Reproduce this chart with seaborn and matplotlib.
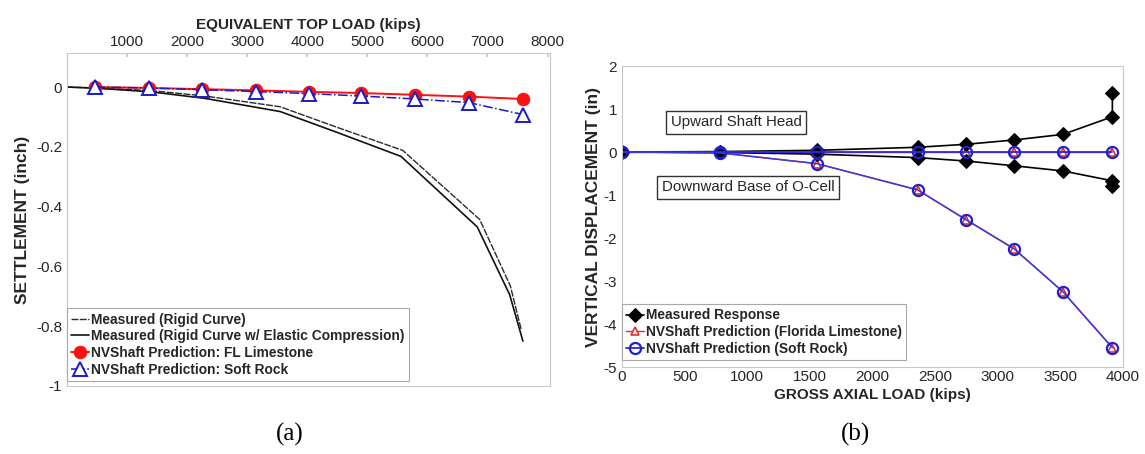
import numpy as np
import pandas as pd
import matplotlib
matplotlib.use("Agg")
import matplotlib.pyplot as plt
import seaborn as sns

# ---------------- (a) settlement vs. equivalent top load ----------------
top_load_ticks = [1000, 2000, 3000, 4000, 5000, 6000, 7000, 8000]
settle_ticks = [0, -0.2, -0.4, -0.6, -0.8, -1]

rigid_load = [0, 500, 1400, 2300, 3550, 4500, 5590, 6870, 7380, 7560]
rigid_settle = [0, -0.003, -0.012, -0.030, -0.066, -0.135, -0.212, -0.443, -0.665, -0.810]
elastic_load = [0, 500, 1400, 2300, 3550, 4500, 5560, 6830, 7370, 7590]
elastic_settle = [0, -0.004, -0.016, -0.038, -0.082, -0.152, -0.232, -0.468, -0.695, -0.850]

pred_load = [470, 1360, 2240, 3140, 4030, 4900, 5800, 6690, 7590]
fl_limestone = [0.0, -0.003, -0.007, -0.011, -0.016, -0.020, -0.026, -0.032, -0.040]
soft_rock = [0.0, -0.003, -0.009, -0.015, -0.022, -0.030, -0.040, -0.052, -0.092]

# ---------------- (b) O-cell displacement vs. gross axial load ----------------
gross_ticks = [0, 500, 1000, 1500, 2000, 2500, 3000, 3500, 4000]
disp_ticks = [2, 1, 0, -1, -2, -3, -4, -5]

up_load = [0, 780, 1555, 2360, 2750, 3130, 3520, 3915, 3915]
up_measured = [0, 0.01, 0.04, 0.11, 0.18, 0.28, 0.41, 0.82, 1.38]
down_load = [0, 780, 1555, 2360, 2750, 3130, 3520, 3915, 3915]
down_measured = [0, -0.01, -0.05, -0.13, -0.21, -0.32, -0.44, -0.67, -0.80]

pred_gross = [0, 780, 1555, 2360, 2750, 3130, 3520, 3915]
fl_up = [0, 0, 0, 0, 0, 0, 0, 0]
fl_down = [0, -0.02, -0.27, -0.88, -1.58, -2.25, -3.25, -4.55]
sr_up = [0, 0, 0, 0, 0, 0, 0, 0]
sr_down = [0, -0.02, -0.27, -0.88, -1.58, -2.25, -3.25, -4.55]

sns.set_theme(style="white")
plt.rcParams["font.family"] = ["Liberation Sans", "DejaVu Sans"]
plt.rcParams["axes.unicode_minus"] = False

fig = plt.figure(figsize=(11.45, 4.54), dpi=100)
ax1 = fig.add_axes([0.0585, 0.150, 0.4218, 0.7333])
ax2 = fig.add_axes([0.5432, 0.1916, 0.4376, 0.6630])

spine_col = "#c8c8c8"
text_col = "#262626"


def style_axes(ax):
    for s in ax.spines.values():
        s.set_color(spine_col)
        s.set_linewidth(0.8)
    ax.tick_params(direction="in", length=3, color=spine_col, labelsize=11,
                   labelcolor=text_col)


legend_kw = dict(loc="lower left", borderaxespad=0, fancybox=False, framealpha=1,
                 edgecolor="#a8a8a8", prop={"weight": "bold", "size": 9.9},
                 handlelength=1.3, handletextpad=0.15, labelspacing=0.2,
                 borderpad=0.3)

# --- panel (a)
sns.lineplot(x=rigid_load, y=rigid_settle, ax=ax1, sort=False, estimator=None,
             color="#2a2a2a", lw=1.0, linestyle=(0, (5, 1)),
             label="Measured (Rigid Curve)")
sns.lineplot(x=elastic_load, y=elastic_settle, ax=ax1, sort=False, estimator=None,
             color="#111111", lw=1.2, label="Measured (Rigid Curve w/ Elastic Compression)")
sns.lineplot(x=pred_load, y=fl_limestone, ax=ax1, sort=False, estimator=None,
             color="#ff1010", lw=1.4, marker="o", markersize=9,
             markeredgecolor="#ff1010", markerfacecolor="#ff1010",
             label="NVShaft Prediction: FL Limestone")
sns.lineplot(x=pred_load, y=soft_rock, ax=ax1, sort=False, estimator=None,
             color="#1a1acc", lw=1.1, linestyle="-.", marker="^", markersize=10,
             markeredgecolor="#1a1acc", markerfacecolor="white", markeredgewidth=1.4,
             label="NVShaft Prediction: Soft Rock")

ax1.set_xlim(0, 8040)
ax1.set_ylim(-1, 0.114)
ax1.xaxis.tick_top()
ax1.xaxis.set_label_position("top")
ax1.set_xticks(top_load_ticks)
ax1.set_xticklabels([str(v) for v in top_load_ticks])
ax1.set_yticks(settle_ticks)
ax1.set_yticklabels(["0", "-0.2", "-0.4", "-0.6", "-0.8", "-1"])
ax1.set_xlabel("EQUIVALENT TOP LOAD (kips)", fontsize=11, fontweight="bold",
               color=text_col, labelpad=4)
ax1.set_ylabel("SETTLEMENT (inch)", fontsize=12.5, fontweight="bold",
               color=text_col, labelpad=4)
style_axes(ax1)
ax1.tick_params(axis="x", pad=3)

leg1 = ax1.legend(bbox_to_anchor=(0.0, 0.015), **legend_kw)
leg1.get_frame().set_linewidth(0.8)

# --- panel (b)
sns.lineplot(x=pred_gross, y=fl_up, ax=ax2, sort=False, estimator=None,
             color="#ff2020", lw=1.0, marker="^", markersize=6,
             markeredgecolor="#e03030", markerfacecolor="white", markeredgewidth=1.2,
             label="NVShaft Prediction (Florida Limestone)")
sns.lineplot(x=pred_gross, y=fl_down, ax=ax2, sort=False, estimator=None,
             color="#ff2020", lw=1.0, marker="^", markersize=6,
             markeredgecolor="#e03030", markerfacecolor="white", markeredgewidth=1.2)
sns.lineplot(x=up_load, y=up_measured, ax=ax2, sort=False, estimator=None,
             color="black", lw=1.2, marker="D", markersize=7,
             markeredgecolor="black", markerfacecolor="black",
             label="Measured Response")
sns.lineplot(x=down_load, y=down_measured, ax=ax2, sort=False, estimator=None,
             color="black", lw=1.2, marker="D", markersize=7,
             markeredgecolor="black", markerfacecolor="black")
sns.lineplot(x=pred_gross, y=sr_up, ax=ax2, sort=False, estimator=None,
             color="#2a2aee", lw=1.3, marker="o", markersize=8,
             markeredgecolor="#2020cc", markerfacecolor="none", markeredgewidth=1.6,
             label="NVShaft Prediction (Soft Rock)")
sns.lineplot(x=pred_gross, y=sr_down, ax=ax2, sort=False, estimator=None,
             color="#3a3ae0", lw=1.1, marker="o", markersize=8,
             markeredgecolor="#2020cc", markerfacecolor="none", markeredgewidth=1.6)

ax2.set_xlim(0, 4000)
ax2.set_ylim(-5, 2)
ax2.set_xticks(gross_ticks)
ax2.set_xticklabels([str(v) for v in gross_ticks])
ax2.set_yticks(disp_ticks)
ax2.set_yticklabels([str(v) for v in disp_ticks])
ax2.set_xlabel("GROSS AXIAL LOAD (kips)", fontsize=11, fontweight="bold",
               color=text_col, labelpad=3)
ax2.set_ylabel("VERTICAL DISPLACEMENT (in)", fontsize=12.5, fontweight="bold",
               color=text_col, labelpad=2)
style_axes(ax2)
ax2.tick_params(axis="x", pad=2)

box_style = dict(boxstyle="square,pad=0.3", facecolor="white", edgecolor="#333333", lw=1.0)
ax2.text(910, 0.69, "Upward Shaft Head", ha="center", va="center", fontsize=10.8,
         color=text_col, bbox=box_style)
ax2.text(1006, -0.82, "Downward Base of O-Cell", ha="center", va="center", fontsize=10.8,
         color=text_col, bbox=box_style)

h2, l2 = ax2.get_legend_handles_labels()
order = [l2.index("Measured Response"),
         l2.index("NVShaft Prediction (Florida Limestone)"),
         l2.index("NVShaft Prediction (Soft Rock)")]
leg2 = ax2.legend([h2[i] for i in order], [l2[i] for i in order],
                  bbox_to_anchor=(0.0, 0.023), **legend_kw)
leg2.get_frame().set_linewidth(0.8)

# panel captions
fig.text(290 / 1145, 1 - 434 / 454, "(a)", ha="center", va="center",
         fontsize=18, family=["Liberation Serif", "DejaVu Serif"], color="black")
fig.text(855 / 1145, 1 - 434 / 454, "(b)", ha="center", va="center",
         fontsize=18, family=["Liberation Serif", "DejaVu Serif"], color="black")

fig.savefig("out.png", dpi=100, facecolor="white")
